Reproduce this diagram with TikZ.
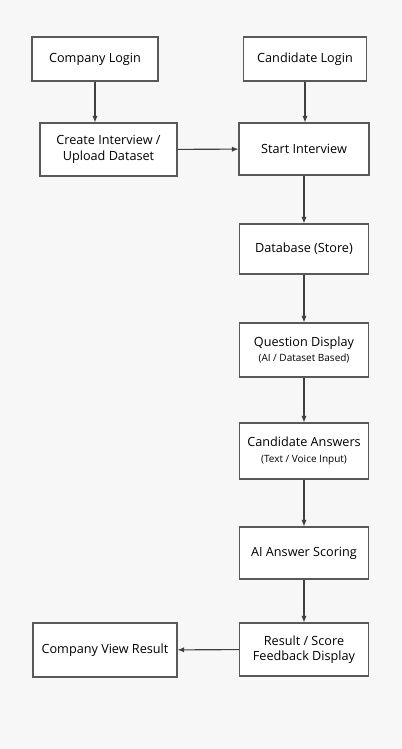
\documentclass[tikz,border=0pt]{standalone}
\usepackage{fontspec}
\setmainfont{Open Sans}
\usetikzlibrary{arrows.meta}
\begin{document}
\begin{tikzpicture}[x=0.75pt,y=-0.75pt,
  box/.style={draw=black!65, line width=0.8pt, fill=white, align=center,
    font=\fontsize{9.5}{11.5}\selectfont, inner sep=0pt}]

\fill[black!3] (0,0) rectangle (402,749);
\useasboundingbox (0,0) rectangle (402,749);

% left column
\node [box, minimum width=94.5pt, minimum height=33pt] (clog) at (95,59) {Company Login};
\node [box, minimum width=102.75pt, minimum height=39.75pt] (crea) at (108.5,149.5) {Create Interview /\\Upload Dataset};
\node [box, minimum width=108pt, minimum height=40.5pt] (view) at (105,650) {Company View Result};

% right column
\node [box, minimum width=92pt, minimum height=33pt] (cand) at (305,59) {Candidate Login};
\node [box, minimum width=97.5pt, minimum height=39pt] (start) at (304,149) {Start Interview};
\node [box, minimum width=96.75pt, minimum height=37.5pt] (db) at (304,249) {Database (Store)};
\node [box, minimum width=96.75pt, minimum height=40.5pt] (qd) at (304,350) {Question Display\\{\fontsize{7.5}{9}\selectfont (AI / Dataset Based)}};
\node [box, minimum width=96.75pt, minimum height=42pt] (ans) at (304,451) {Candidate Answers\\{\fontsize{7.5}{9}\selectfont (Text / Voice Input)}};
\node [box, minimum width=96.75pt, minimum height=39pt] (score) at (304,553) {AI Answer Scoring};
\node [box, minimum width=96.75pt, minimum height=39.75pt] (res) at (304,649.5) {Result / Score\\Feedback Display};

\begin{scope}[black!75, line width=0.8pt, -{Latex[length=5pt,width=4pt]}]
\draw (clog.south) -- (clog.south |- crea.north);
\draw (cand.south) -- (cand.south |- start.north);
\draw (crea) -- (start);
\draw (start) -- (db);
\draw (db) -- (qd);
\draw (qd) -- (ans);
\draw (ans) -- (score);
\draw (score) -- (res);
\draw (res) -- (view);
\end{scope}

\end{tikzpicture}
\end{document}
